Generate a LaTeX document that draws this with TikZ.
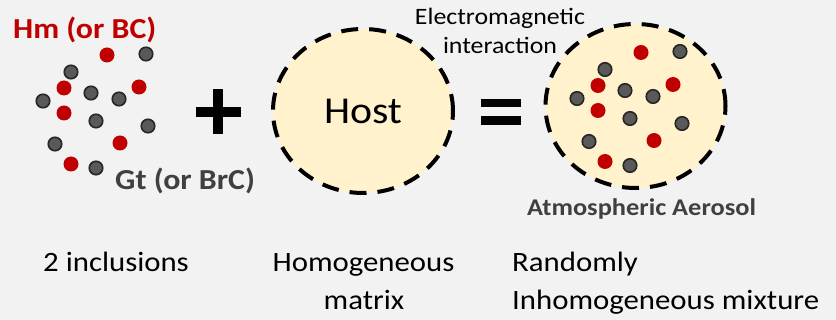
\documentclass[tikz,border=0pt]{standalone}
\usepackage{fontspec}
\setmainfont{Carlito}[FakeStretch=1.1]
\usetikzlibrary{shapes.geometric}
\definecolor{bgcol}{HTML}{F2F2F2}
\definecolor{hostfill}{HTML}{FFF2CC}
\definecolor{hmred}{HTML}{C00000}
\definecolor{gtgray}{HTML}{595959}
\definecolor{gtedge}{HTML}{262626}
\definecolor{labelgray}{HTML}{404040}
\tikzset{
  reddot/.style={circle, fill=hmred, inner sep=0pt, minimum size=15pt},
  graydot/.style={circle, fill=gtgray, draw=gtedge, line width=1.6pt, inner sep=0pt, minimum size=13.5pt},
  blob/.style={ellipse, fill=hostfill, draw=black, line width=4pt,
    dash pattern=on 17pt off 11pt, minimum width=180pt, minimum height=164pt, inner sep=0pt},
  plaintext/.style={inner sep=0pt, font=\fontsize{28}{34}\selectfont},
  boldlabel/.style={inner sep=0pt, font=\fontsize{29}{34}\selectfont\bfseries},
  emtext/.style={inner sep=0pt, font=\fontsize{23.5}{28}\selectfont, anchor=base},
  opbar/.style={fill=black}
}
% one cloud of inclusions, placed with a shift
\newcommand{\inclusioncloud}[1]{%
  \node[reddot]  (#1r1) at (107,55) {};
  \node[reddot]  (#1r2) at (64,88) {};
  \node[reddot]  (#1r3) at (139,87) {};
  \node[reddot]  (#1r4) at (64,113) {};
  \node[reddot]  (#1r5) at (120,143) {};
  \node[reddot]  (#1r6) at (71,164) {};
  \node[graydot] (#1g1) at (146,54) {};
  \node[graydot] (#1g2) at (71,72) {};
  \node[graydot] (#1g3) at (43,101) {};
  \node[graydot] (#1g4) at (91,93) {};
  \node[graydot] (#1g5) at (119,99) {};
  \node[graydot] (#1g6) at (96,121) {};
  \node[graydot] (#1g7) at (148,126) {};
  \node[graydot] (#1g8) at (55,144) {};
  \node[graydot] (#1g9) at (96,168) {};
}
\begin{document}
\begin{tikzpicture}[x=1pt, y=-1pt]
  \fill[bgcol] (0,0) rectangle (836,320);
  \useasboundingbox (0,0) rectangle (836,320);

  % inclusions on their own
  \inclusioncloud{a}
  \node[boldlabel, text=hmred, anchor=base west] (hmlabel) at (13,39) {Hm (or BC)};
  \node[boldlabel, text=labelgray, anchor=base west] (gtlabel) at (115,190) {Gt (or BrC)};

  % plus sign
  \node[opbar, minimum width=45pt, minimum height=10pt, inner sep=0pt] (plush) at (218,112) {};
  \node[opbar, minimum width=10pt, minimum height=45pt, inner sep=0pt] (plusv) at (218,112) {};

  % host matrix
  \node[blob, font=\fontsize{38}{44}\selectfont] (host) at (363,111) {Host};

  % equals sign
  \node[opbar, minimum width=40pt, minimum height=8pt, inner sep=0pt] (eqtop) at (501,103) {};
  \node[opbar, minimum width=40pt, minimum height=9pt, inner sep=0pt] (eqbot) at (501,120.5) {};

  % resulting aerosol
  \node[blob] (mix) at (635.5,106) {};
  \begin{scope}[shift={(534,-2.5)}]
    \inclusioncloud{b}
  \end{scope}
  \node[emtext] (emlabel1) at (500,25) {Electromagnetic};
  \node[emtext] (emlabel2) at (500,54) {interaction};
  \node[inner sep=0pt, font=\fontsize{24}{28}\selectfont\bfseries, text=labelgray, anchor=base west] (aerolabel) at (527,216)
    {Atmospheric Aerosol};

  % captions
  \node[plaintext, anchor=base west] (cap1) at (43,272) {2 inclusions};
  \node[plaintext, anchor=base] (cap2a) at (363.5,272) {Homogeneous};
  \node[plaintext, anchor=base] (cap2b) at (364,310) {matrix};
  \node[plaintext, anchor=base west] (cap3a) at (512,272) {Randomly};
  \node[plaintext, anchor=base west] (cap3b) at (512,310) {Inhomogeneous mixture};
\end{tikzpicture}
\end{document}
